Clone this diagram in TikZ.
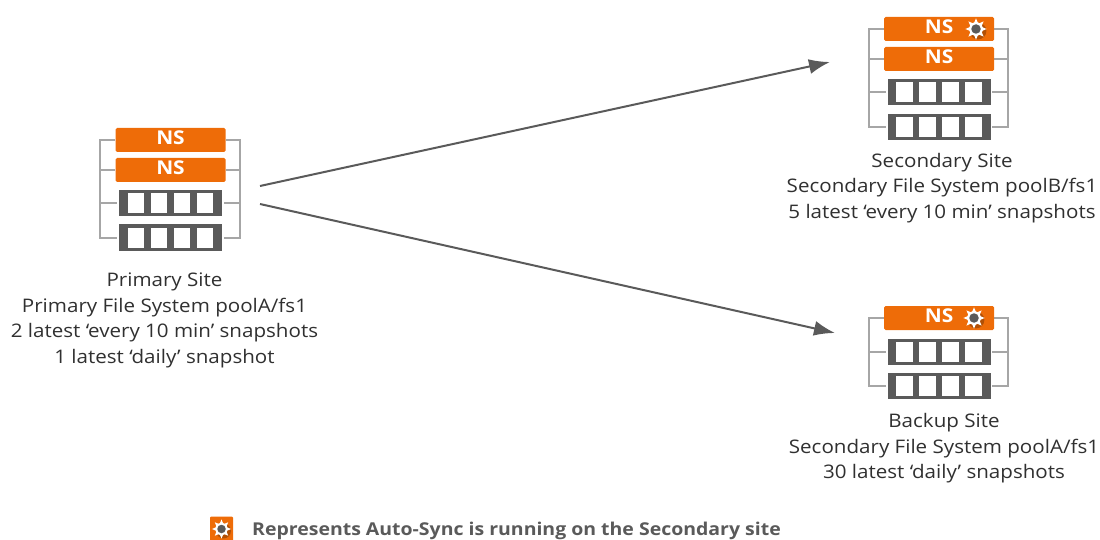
\documentclass[tikz,border=0pt]{standalone}
\usepackage{fontspec}
\setmainfont[FakeStretch=1.1]{Open Sans}
\usetikzlibrary{arrows.meta}
\definecolor{nsorange}{HTML}{EE6C08}
\definecolor{stgray}{HTML}{5A5A5A}
\definecolor{framegray}{HTML}{A6A6A6}
\definecolor{txt}{HTML}{303030}
\tikzset{
  x=1pt,y=-1pt,
  nsbox/.style={draw=none,fill=nsorange,rounded corners=1.5pt,minimum width=110pt,minimum height=24pt,inner sep=0pt},
  nslabel/.style={text=white,font=\fontsize{19}{19}\selectfont\bfseries,inner sep=0pt},
  stbox/.style={fill=stgray,minimum width=103pt,minimum height=26pt,inner sep=0pt},
  cell/.style={fill=white,minimum width=16.5pt,minimum height=20pt,inner sep=0pt},
  frameline/.style={draw=framegray,line width=1.3pt},
  flow/.style={draw=stgray,line width=2pt,-{Latex[length=21pt,width=15pt]}},
  sitetext/.style={text=txt,align=center,inner sep=0pt,font=\fontsize{18.7}{25.6}\selectfont},
  legendtext/.style={text=stgray,anchor=west,inner sep=0pt,font=\fontsize{17.7}{18}\selectfont\bfseries},
}
% #1 name, #2 x centre, #3 y centre
\newcommand{\nsunit}[3]{%
  \node[nsbox] (#1) at (#2,#3) {};
  \node[nslabel] (#1l) at (#2,#3-2.5) {NS};
}
\newcommand{\stunit}[3]{%
  \node[stbox] (#1) at (#2,#3) {};
  \node[cell] (#1a) at (#2-34.5,#3) {};
  \node[cell] (#1b) at (#2-11.5,#3) {};
  \node[cell] (#1c) at (#2+11.5,#3) {};
  \node[cell] (#1d) at (#2+34.5,#3) {};
}
% #1 x, #2 y, #3 radius scale
\newcommand{\gearicon}[3]{%
  \fill[black,opacity=.25] (#1+2,#2+2) circle[radius=#3*4.4pt];
  \foreach \ang in {0,45,...,315}
    \fill[white] ([shift={(#1,#2)}]\ang-20:#3*3.2pt) -- ([shift={(#1,#2)}]\ang:#3*5.6pt) -- ([shift={(#1,#2)}]\ang+20:#3*3.2pt) -- cycle;
  \fill[white] (#1,#2) circle[radius=#3*3.6pt];
  \fill[stgray] (#1,#2) circle[radius=#3*2.5pt];
}
\begin{document}
\begin{tikzpicture}
\useasboundingbox (0,0) rectangle (1100,540);
% Primary
\draw[frameline] (115,140) -- (100,140) -- (100,238) -- (117,238);
\draw[frameline] (226,140) -- (240,140) -- (240,238) -- (224,238);
\draw[frameline] (100,170) -- (115,170) (100,203) -- (117,203) (226,170) -- (240,170) (224,203) -- (240,203);
\nsunit{pa}{170.5}{140}
\nsunit{pb}{170.5}{170}
\stunit{pc}{170.5}{203.5}
\stunit{pd}{170.5}{237.5}
\node[sitetext] (ptext) at (164.5,320.5) {Primary Site\\Primary File System poolA/fs1\\2 latest ‘every 10 min’ snapshots\\1 latest ‘daily’ snapshot};
% Secondary
\draw[frameline] (884,29) -- (869,29) -- (869,127) -- (886,127);
\draw[frameline] (994,29) -- (1008,29) -- (1008,127) -- (992,127);
\draw[frameline] (869,59) -- (884,59) (869,92) -- (886,92) (994,59) -- (1008,59) (992,92) -- (1008,92);
\nsunit{sa}{939}{29}
\nsunit{sb}{939}{59}
\stunit{sc}{939}{92}
\stunit{sd}{939}{127}
\gearicon{976}{29}{1.9}
\node[sitetext] (stext) at (942,188) {Secondary Site\\Secondary File System poolB/fs1\\5 latest ‘every 10 min’ snapshots};
% Backup
\draw[frameline] (884,318) -- (869,318) -- (869,386) -- (886,386);
\draw[frameline] (994,318) -- (1008,318) -- (1008,386) -- (992,386);
\draw[frameline] (869,352) -- (886,352) (992,352) -- (1008,352);
\nsunit{ba}{939}{318}
\stunit{bb}{939}{352}
\stunit{bc}{939}{386}
\gearicon{974}{318}{1.9}
\node[sitetext] (btext) at (944,448.5) {Backup Site\\Secondary File System poolA/fs1\\30 latest ‘daily’ snapshots};
% Arrows
\coordinate (ostart) at (260,186);
\coordinate (oend) at (830,62);
\coordinate (bstart) at (260,204);
\coordinate (bend) at (835,333);
\draw[flow] (ostart) -- (oend);
\draw[flow] (bstart) -- (bend);
% Legend
\node[fill=nsorange,rounded corners=1pt,minimum width=23pt,minimum height=25pt,inner sep=0pt] (licon) at (221.5,529) {};
\gearicon{221.5}{529}{1.7}
\node[legendtext] (ltext) at (252,531) {Represents Auto-Sync is running on the Secondary site};
\end{tikzpicture}
\end{document}
